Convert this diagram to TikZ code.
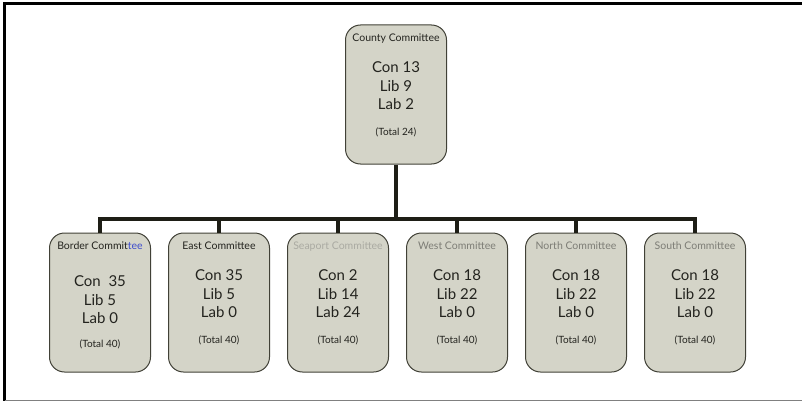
\documentclass[tikz,border=0pt]{standalone}
\usepackage{fontspec}
\setmainfont{Lato}
\usetikzlibrary{positioning}
\definecolor{boxfill}{RGB}{212,212,200}
\definecolor{boxline}{RGB}{65,65,55}
\definecolor{barcol}{RGB}{30,30,22}
\definecolor{inkcol}{RGB}{35,35,30}
\definecolor{dimcol}{RGB}{125,125,118}
\definecolor{palecol}{RGB}{170,170,162}
\definecolor{bluecol}{RGB}{60,75,205}

\begin{document}
\begin{tikzpicture}[
  x=1pt, y=-1pt,
  node distance = 17pt,
  comm/.style = {draw=boxline, fill=boxfill, line width=1pt, rounded corners=15pt, minimum width=101pt, minimum height=139pt},
  ctitle/.style = {font=\fontsize{10.5}{12}\selectfont, text=inkcol, inner sep=1pt},
  votes/.style = {font=\fontsize{15}{18.5}\selectfont, text=inkcol, align=center, inner sep=1pt},
  total/.style = {font=\fontsize{10}{12}\selectfont, text=inkcol, inner sep=1pt},
  bar/.style = {draw=barcol, line width=3.5pt},
]
\useasboundingbox (0,0) rectangle (802,401);
% frame
\draw[black, line width=3pt] (4.5,401) -- (4.5,3.5) -- (802,3.5);
\draw[gray, line width=1pt] (4.5,400) -- (802,400);

% county
\node[comm] (county) at (396,94.5) {};
\node[ctitle, below=8pt of county.north] (countyT) {County Committee};
\node[votes, below=36pt of county.north] (countyV) {Con 13\\Lib 9\\Lab 2};
\node[total, below=102pt of county.north] (countyS) {(Total 24)};

% committees
\node[comm] (border) at (100,302.5) {};
\node[comm, right=of border] (east) {};
\node[comm, right=of east] (seaport) {};
\node[comm, right=of seaport] (west) {};
\node[comm, right=of west] (north) {};
\node[comm, right=of north] (south) {};

\node[ctitle, below=8pt of border.north] (borderT) {Border Commit\textcolor{bluecol}{tee}};
\node[votes, below=42pt of border.north] (borderV) {Con\ \ 35\\Lib 5\\Lab 0};
\node[total, below=106pt of border.north] (borderS) {(Total 40)};

\node[ctitle, below=8pt of east.north] (eastT) {East Committee};
\node[votes, below=36pt of east.north] (eastV) {Con 35\\Lib 5\\Lab 0};
\node[total, below=102pt of east.north] (eastS) {(Total 40)};

\node[ctitle, text=palecol, below=8pt of seaport.north] (seaportT) {Seaport Committee};
\node[votes, below=36pt of seaport.north] (seaportV) {Con 2\\Lib 14\\Lab 24};
\node[total, below=102pt of seaport.north] (seaportS) {(Total 40)};

\node[ctitle, text=dimcol, below=8pt of west.north] (westT) {West Committee};
\node[votes, below=36pt of west.north] (westV) {Con 18\\Lib 22\\Lab 0};
\node[total, below=102pt of west.north] (westS) {(Total 40)};

\node[ctitle, text=dimcol, below=8pt of north.north] (northT) {North Committee};
\node[votes, below=36pt of north.north] (northV) {Con 18\\Lib 22\\Lab 0};
\node[total, below=102pt of north.north] (northS) {(Total 40)};

\node[ctitle, text=dimcol, below=8pt of south.north] (southT) {South Committee};
\node[votes, below=36pt of south.north] (southV) {Con 18\\Lib 22\\Lab 0};
\node[total, below=102pt of south.north] (southS) {(Total 40)};

% tree
\coordinate (hub) at (396,219);
\draw[bar] (county) -- (hub);
\draw[bar] (hub) -| (border); \draw[bar] (hub) -| (east); \draw[bar] (hub) -| (seaport);
\draw[bar] (hub) -| (west); \draw[bar] (hub) -| (north); \draw[bar] (hub) -| (south);
\end{tikzpicture}
\end{document}
